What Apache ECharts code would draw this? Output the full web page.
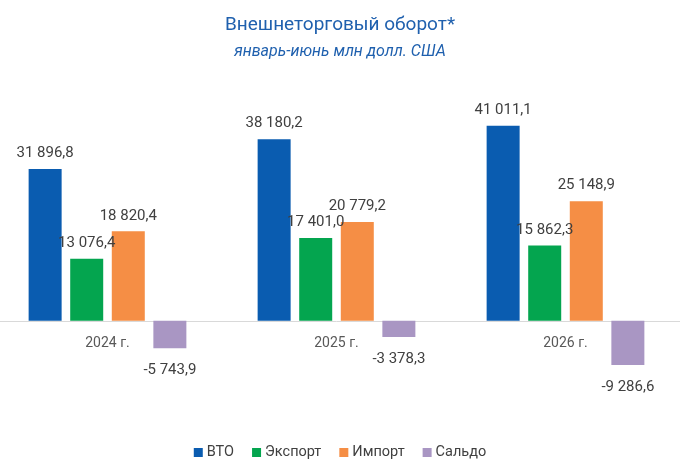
<!DOCTYPE html>
<html>
<head>
<meta charset="utf-8">
<script src="https://cdn.jsdelivr.net/npm/echarts@6/dist/echarts.min.js"></script>
<style>
html,body{margin:0;padding:0;background:#fff;overflow:hidden;}
#chart{position:absolute;left:-7px;top:0;width:694px;height:468px;}
</style>
</head>
<body>
<div id="chart"></div>
<script>
var years = ['2024 г.', '2025 г.', '2026 г.'];
var names = ['ВТО', 'Экспорт', 'Импорт', 'Сальдо'];
var vto = [31896.8, 38180.2, 41011.1];
var exportVals = [13076.4, 17401.0, 15862.3];
var importVals = [18820.4, 20779.2, 25148.9];
var saldo = [-5743.9, -3378.3, -9286.6];
var colors = ['#0a5cb0', '#04a54f', '#f58e45', '#a996c3'];

function fmt(v) {
    var neg = v < 0;
    var s = Math.abs(v).toFixed(1).split('.');
    var intPart = s[0].replace(/\B(?=(\d{3})+(?!\d))/g, ' ');
    return (neg ? '-' : '') + intPart + ',' + s[1];
}

function makeSeries(name, data, color) {
    return {
        name: name,
        type: 'bar',
        barWidth: 33,
        barGap: '26%',
        data: data,
        itemStyle: { color: color },
        label: {
            show: true,
            position: data[0] < 0 ? 'bottom' : 'top',
            distance: data[0] < 0 ? 15 : 8,
            fontFamily: 'Roboto',
            fontSize: 15,
            color: '#404040',
            formatter: function (p) { return fmt(p.value); }
        }
    };
}

var myChart = echarts.init(document.getElementById('chart'));
var option = {
    backgroundColor: '#fff',
    animation: false,
    title: [
        {
            text: 'Внешнеторговый оборот*',
            left: 'center',
            top: 11,
            textStyle: { fontFamily: 'Roboto', fontSize: 19, fontWeight: 'normal', color: '#1f60ae' }
        },
        {
            text: 'январь-июнь млн долл. США',
            left: 'center',
            top: 39,
            textStyle: { fontFamily: 'Roboto', fontSize: 16, fontStyle: 'italic', fontWeight: 'normal', color: '#1f60ae' }
        }
    ],
    legend: {
        data: names,
        bottom: 3,
        left: 'center',
        itemWidth: 9,
        itemHeight: 9,
        itemGap: 18,
        icon: 'rect',
        textStyle: { fontFamily: 'Roboto', fontSize: 14.5, color: '#404040', padding: [0, 0, 0, -1] }
    },
    grid: { left: 0, right: 7, top: 83, bottom: 52, containLabel: false },
    xAxis: {
        type: 'category',
        data: years,
        axisLine: { onZero: true, lineStyle: { color: '#d9d9d9', width: 1 } },
        axisTick: { show: false },
        axisLabel: { fontFamily: 'Roboto', fontSize: 14, color: '#595959', margin: -80 }
    },
    yAxis: {
        type: 'value',
        min: -20000,
        max: 50000,
        show: false,
        splitLine: { show: false }
    },
    series: [
        makeSeries(names[0], vto, colors[0]),
        makeSeries(names[1], exportVals, colors[1]),
        makeSeries(names[2], importVals, colors[2]),
        makeSeries(names[3], saldo, colors[3])
    ]
};
myChart.setOption(option);
</script>
</body>
</html>
